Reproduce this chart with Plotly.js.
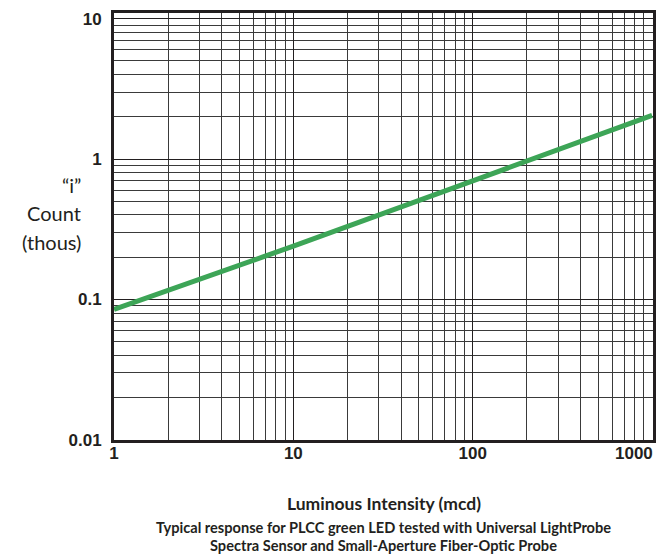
<!DOCTYPE html>
<html>
<head>
<meta charset="utf-8">
<script src="https://cdn.plot.ly/plotly-3.0.1.min.js"></script>
<style>html,body{margin:0;padding:0;background:#fff;}#chart{width:660px;height:554px;}</style>
</head>
<body>
<div id="chart"></div>
<script>
// Data (log-log response line)
const intensity = [1, 10, 100, 1000];          // Luminous Intensity (mcd)
const countThous = [0.085, 0.24, 0.70, 2.05];  // "i" Count (thousands)

// Tick labels
const xTickVals = [1, 10, 100, 1000];
const xTickText = ['1', '10', '100', '1000'];
const yTickVals = [0.01, 0.1, 1, 10];
const yTickText = ['0.01', '0.1', '1', '10'];

const yTitleLines = ['\u201Ci\u201D', 'Count', '(thous)'];
const xTitle = 'Luminous Intensity (mcd)';
const subTitleLines = [
  'Typical response for PLCC green LED tested with Universal LightProbe',
  'Spectra Sensor and Small-Aperture Fiber-Optic Probe'
];

function minorVals(start, end) {
  const v = [];
  for (let d = start; d < end; d *= 10) {
    for (let k = 2; k <= 9; k++) v.push(k * d);
  }
  return v;
}

const ink = '#231f20';
const tickFont = {family: 'Liberation Sans, Arial, sans-serif', size: 17, color: ink, weight: 'bold'};

const trace = {
  x: intensity,
  y: countThous,
  type: 'scatter',
  mode: 'lines',
  line: {color: '#3da557', width: 5},
  hoverinfo: 'skip'
};

const annotations = [];
const yTitleY = [185, 213, 242];
yTitleLines.forEach((t, i) => {
  annotations.push({
    text: t, xref: 'paper', yref: 'paper', x: 0, y: 1,
    xanchor: 'right', yanchor: 'middle', showarrow: false,
    xshift: -31, yshift: -(yTitleY[i] - 13),
    font: {family: 'Lato, Open Sans, sans-serif', size: 20, color: ink}
  });
});
annotations.push({
  text: xTitle, xref: 'paper', yref: 'paper', x: 0.5, y: 0,
  xanchor: 'center', yanchor: 'middle', showarrow: false,
  yshift: -(503 - 440),
  font: {family: 'Lato, Open Sans, sans-serif', size: 17.5, color: ink, weight: 'bold'}
});
const subY = [527, 545];
subTitleLines.forEach((t, i) => {
  annotations.push({
    text: t, xref: 'paper', yref: 'paper', x: 0.5, y: 0,
    xanchor: 'center', yanchor: 'middle', showarrow: false,
    yshift: -(subY[i] - 440),
    font: {family: 'Lato, Open Sans, sans-serif', size: 14.6, color: ink, weight: 'bold'}
  });
});
// Last x tick label, right-aligned to the plot edge as in the reference
const lastIdx = xTickVals.length - 1;
annotations.push({
  text: xTickText[lastIdx], xref: 'x', yref: 'paper',
  x: Math.log10(xTickVals[lastIdx]), y: 0,
  xanchor: 'right', yanchor: 'top', showarrow: false,
  xshift: 3, yshift: -2,
  font: tickFont
});
const xTickTextShown = xTickText.map((t, i) => i === lastIdx ? '' : t);

const layout = {
  width: 660, height: 554,
  margin: {l: 114, r: 7, t: 13, b: 114, pad: 0},
  paper_bgcolor: '#ffffff', plot_bgcolor: '#ffffff',
  showlegend: false,
  xaxis: {
    type: 'log', range: [0, 3.005],
    tickmode: 'array', tickvals: xTickVals, ticktext: xTickTextShown,
    tickfont: tickFont, ticks: '', ticklabelstandoff: -4,
    showline: true, mirror: true, linewidth: 3, linecolor: ink,
    showgrid: true, gridcolor: ink, gridwidth: 1,
    minor: {tickmode: 'array', tickvals: minorVals(1, 1000), showgrid: true, gridcolor: '#3a3a3a', gridwidth: 1, ticks: ''},
    zeroline: false, fixedrange: true
  },
  yaxis: {
    type: 'log', range: [-2, 1.04],
    tickmode: 'array', tickvals: yTickVals, ticktext: yTickText,
    tickfont: tickFont, ticks: '', ticklabelstandoff: 6,
    showline: true, mirror: true, linewidth: 3, linecolor: ink,
    showgrid: true, gridcolor: ink, gridwidth: 1,
    minor: {tickmode: 'array', tickvals: minorVals(0.01, 10), showgrid: true, gridcolor: '#3a3a3a', gridwidth: 1, ticks: ''},
    zeroline: false, fixedrange: true
  },
  annotations: annotations
};

Plotly.newPlot('chart', [trace], layout, {displayModeBar: false, staticPlot: true});
</script>
</body>
</html>
